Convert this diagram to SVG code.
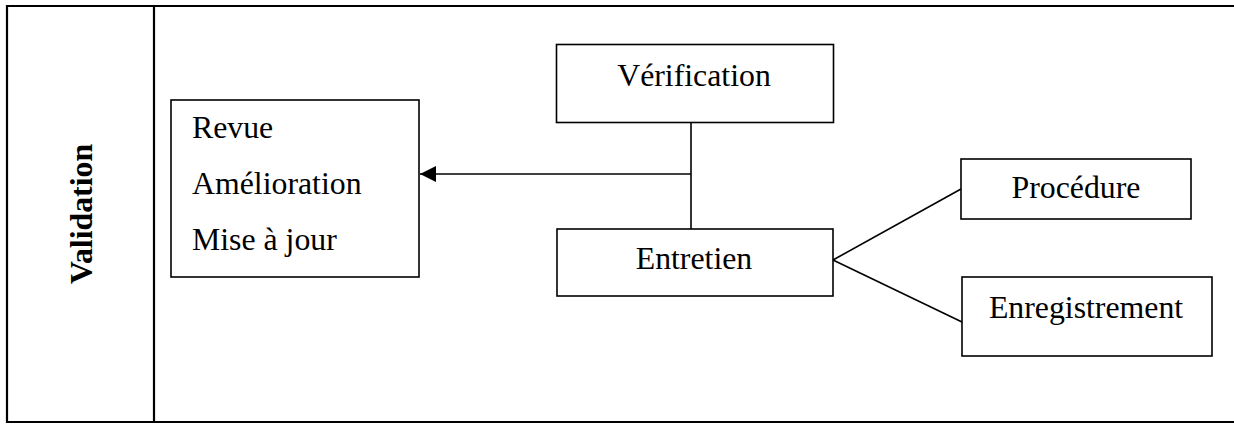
<svg xmlns="http://www.w3.org/2000/svg" width="1234" height="425" viewBox="0 0 1234 425">
<style>
.box{fill:#fff;stroke:#000;stroke-width:1.6}
.frame{fill:none;stroke:#000;stroke-width:2.2}
.t{font-family:"Liberation Serif","Times New Roman",serif;font-size:31.8px;fill:#000}
.c{text-anchor:middle}
.b{font-weight:bold}
.ln{stroke:#000;stroke-width:1.6;fill:none}
</style>
<defs>
<marker id="arr" viewBox="0 0 16 16" refX="16" refY="8" markerWidth="16" markerHeight="16" markerUnits="userSpaceOnUse" orient="auto">
<path d="M0,0 L16,8 L0,16 Z" fill="#000"/>
</marker>
</defs>
<rect width="1234" height="425" fill="#fff"/>
<g id="frame">
<path class="frame" d="M1234,6 H7 V422 H1234"/>
<line class="frame" x1="154" y1="6" x2="154" y2="422"/>
</g>
<g id="validation">
<text class="t b c" transform="translate(92,214) rotate(-90)">Validation</text>
</g>
<g id="revue">
<rect class="box" x="171" y="100" width="248" height="177"/>
<text class="t" x="192" y="138">Revue</text>
<text class="t" x="192" y="194">Amélioration</text>
<text class="t" x="192" y="250">Mise à jour</text>
</g>
<g id="verification">
<rect class="box" x="556.5" y="44.5" width="277" height="78"/>
<text class="t c" x="694" y="86">Vérification</text>
</g>
<g id="entretien">
<rect class="box" x="557" y="229" width="276" height="67"/>
<text class="t c" x="694" y="269">Entretien</text>
</g>
<g id="procedure">
<rect class="box" x="961" y="159" width="230" height="60"/>
<text class="t c" x="1076" y="198">Procédure</text>
</g>
<g id="enregistrement">
<rect class="box" x="962" y="277" width="250" height="79"/>
<text class="t c" x="1086" y="318">Enregistrement</text>
</g>
<g id="connectors">
<line class="ln" x1="691" y1="122.5" x2="691" y2="229"/>
<line class="ln" x1="691" y1="174" x2="420" y2="174" marker-end="url(#arr)"/>
<line class="ln" x1="833" y1="260" x2="961" y2="189"/>
<line class="ln" x1="833" y1="260" x2="962" y2="322"/>
</g>
</svg>
